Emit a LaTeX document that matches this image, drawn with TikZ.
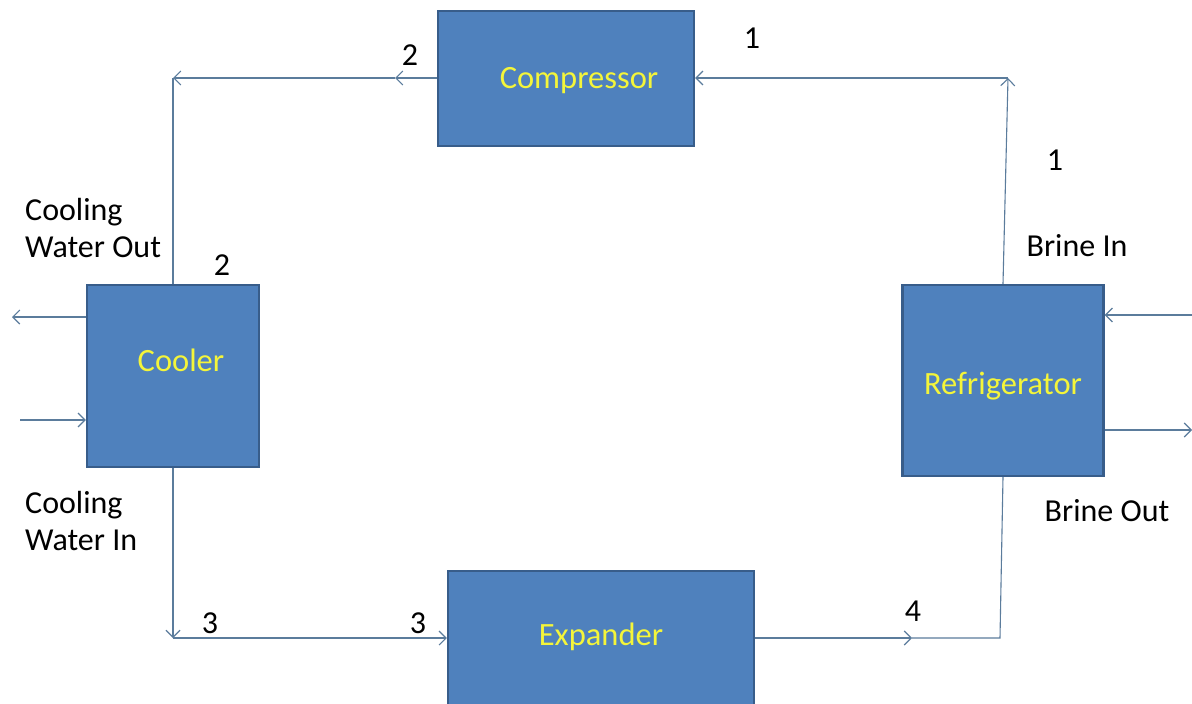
\documentclass[tikz,border=0pt]{standalone}
\usepackage{fontspec}
\setmainfont{Carlito}
\usetikzlibrary{arrows.meta}
\definecolor{boxfill}{HTML}{4F81BD}
\definecolor{boxedge}{HTML}{385D8A}
\definecolor{flowc}{HTML}{5B7C9C}
\definecolor{txty}{HTML}{F4F53A}
\begin{document}
\begin{tikzpicture}[x=1pt,y=-1pt,
  unit/.style={draw=boxedge, line width=2.4pt, fill=boxfill, inner sep=0pt},
  unittext/.style={text=txty, font=\fontsize{32.5}{37}\selectfont, inner sep=0pt, anchor=base},
  lbl/.style={text=black, font=\fontsize{32}{37}\selectfont, inner sep=0pt, anchor=base},
  lblblock/.style={text=black, font=\fontsize{32}{37}\selectfont, inner sep=0pt, anchor=north west, align=left},
  flow/.style={draw=flowc, line width=1.1pt},
  tip/.style={-{Straight Barb[length=7pt,width=14pt,line width=1.1pt]}}]
\useasboundingbox (0,0) rectangle (1192,704);
\fill[white] (0,0) rectangle (1192,704);
\clip (0,0) rectangle (1192,704);

% coordinates for free ends and corners
\coordinate (tl) at (173,78);
\coordinate (tlm) at (395,78);
\coordinate (tr) at (1008,78);
\coordinate (bl) at (173,638);
\coordinate (br) at (1000,638);
\coordinate (brm) at (912,638);
\coordinate (cwo) at (12,317);
\coordinate (cwi) at (20,420);
\coordinate (bi) at (1192,315);
\coordinate (bo) at (1192,430);

% units
\node[unit, minimum width=256pt, minimum height=135pt] (comp) at (566,78.5) {};
\node[unit, minimum width=172pt, minimum height=182pt] (cool) at (173,376) {};
\node[unit, minimum width=201pt, minimum height=191pt] (refr) at (1003,380.5) {};
\node[unit, minimum width=306pt, minimum height=136pt] (expa) at (601,639) {};

\node[unittext] (compT) at (579,88) {Compressor};
\node[unittext] (coolT) at (181,371) {Cooler};
\node[unittext] (refrT) at (1003,394) {Refrigerator};
\node[unittext] (expaT) at (601,645) {Expander};

% connectors
\draw[flow,tip] (comp.west |- tl) -- (tlm);
\draw[flow,tip] (tlm) -- (tl);
\draw[flow] (tl) -- (cool.north);
\draw[flow,tip] (cool.south) -- (bl);
\draw[flow,tip] (bl) -- (expa.west |- bl);
\draw[flow,tip] (expa.east |- br) -- (brm);
\draw[flow] (brm) -- (br) -- (refr.south);
\draw[flow,tip] (refr.north) -- (tr);
\draw[flow,tip] (tr) -- (comp.east |- tr);
\draw[flow,tip] (cool.west |- cwo) -- (cwo);
\draw[flow,tip] (cwi) -- (cool.west |- cwi);
\draw[flow,tip] (bi) -- (refr.east |- bi);
\draw[flow,tip] (refr.east |- bo) -- (bo);

% labels
\node[lbl] (l2a) at (410,65) {2};
\node[lbl] (l1a) at (752,48) {1};
\node[lbl] (l1b) at (1055,170) {1};
\node[lbl] (lbi) at (1077,256) {Brine In};
\node[lbl] (lbo) at (1107,521) {Brine Out};
\node[lbl] (l2b) at (222,275) {2};
\node[lbl] (l3a) at (210,633) {3};
\node[lbl] (l3b) at (418,633) {3};
\node[lbl] (l4) at (913,621) {4};
\node[lblblock] (lcwo) at (25,198) {Cooling\\Water Out};
\node[lblblock] (lcwi) at (25,491) {Cooling\\Water In};
\end{tikzpicture}
\end{document}
